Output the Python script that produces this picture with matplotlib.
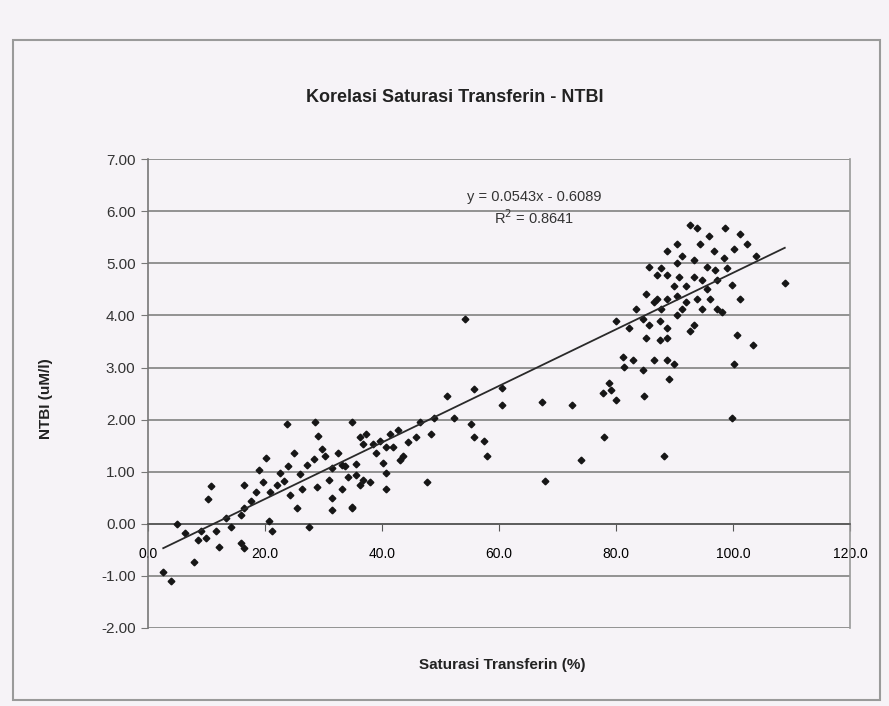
import numpy as np
import matplotlib.pyplot as plt
from matplotlib.patches import Rectangle

# Saturasi transferin (%) vs NTBI
saturasi = [23.7, 28.5, 29.1, 34.9, 36.3, 10.7, 10.2, 16.4, 18.9, 19.7,
            20.8, 22.5, 24.0, 26.0, 27.2, 28.4, 30.3, 31.5, 33.2, 35.5,
            36.7, 31.0, 24.2, 25.4, 31.5, 31.5, 34.9, 16.4, 15.9, 20.6,
            21.1, 27.5, 5.0, 9.0, 9.9, 11.6, 12.1, 15.9, 16.4, 7.8,
            2.6, 4.0, 14.2, 8.5, 13.3, 6.4, 17.6, 18.5, 22.0, 23.2,
            28.9, 33.2, 34.1, 26.3, 36.7, 38.4, 39.6, 40.7, 38.9, 40.1,
            40.7, 37.9, 36.2, 40.7, 33.7, 35.5, 43.6, 43.1, 46.5, 48.8,
            48.3, 45.8, 52.2, 55.2, 55.7, 57.4, 58.0, 47.6, 51.0, 55.7,
            60.4, 67.3, 72.5, 54.2, 34.9, 41.9, 41.3, 37.2, 44.5, 42.7,
            86.5, 88.6, 90.3, 92.0, 93.8, 96.0, 97.2, 101.2, 79.9, 84.6,
            85.6, 87.4, 88.6, 90.3, 93.3, 92.6, 85.1, 87.4, 88.6, 100.7,
            103.3, 100.2, 81.1, 82.9, 84.6, 86.5, 88.6, 89.8, 81.3, 89.1,
            78.7, 77.7, 79.9, 84.8, 99.8, 77.9, 73.9, 88.2, 67.8, 79.1,
            93.8, 98.6, 101.2, 102.4, 88.6, 90.3, 94.3, 96.7, 98.4, 85.6,
            87.7, 90.3, 93.3, 95.5, 90.8, 93.3, 97.2, 89.8, 92.0, 95.5,
            86.9, 108.8, 92.6, 95.8, 100.2, 103.8, 86.9, 94.6, 98.1, 99.8,
            91.3, 96.9, 87.7, 83.4, 82.2, 60.4, 29.8, 32.4, 24.9, 20.2,
            88.6, 85.1, 94.6, 99.0, 91.2]
ntbi = [1.91, 1.96, 1.69, 1.96, 1.67, 0.72, 0.48, 0.74, 1.04, 0.80,
        0.61, 0.98, 1.11, 0.96, 1.13, 1.24, 1.30, 1.07, 1.13, 1.15,
        0.85, 0.85, 0.56, 0.30, 0.50, 0.26, 0.30, 0.30, 0.17, 0.06,
        -0.13, -0.06, 0.00, -0.13, -0.28, -0.13, -0.44, -0.37, -0.46, -0.74,
        -0.93, -1.09, -0.07, -0.31, 0.11, -0.17, 0.43, 0.61, 0.74, 0.83,
        0.70, 0.67, 0.89, 0.67, 1.54, 1.54, 1.59, 1.48, 1.35, 1.17,
        0.98, 0.80, 0.74, 0.67, 1.11, 0.93, 1.30, 1.22, 1.96, 2.04,
        1.72, 1.67, 2.04, 1.91, 1.67, 1.59, 1.30, 0.80, 2.46, 2.59,
        2.28, 2.33, 2.28, 3.94, 0.33, 1.48, 1.72, 1.72, 1.57, 1.81,
        4.26, 4.31, 4.37, 4.26, 4.31, 4.31, 4.13, 4.31, 3.89, 3.94,
        3.81, 3.89, 3.76, 4.00, 3.81, 3.70, 3.57, 3.52, 3.57, 3.63,
        3.44, 3.07, 3.20, 3.15, 2.96, 3.15, 3.15, 3.07, 3.02, 2.78,
        2.70, 2.52, 2.37, 2.46, 2.04, 1.67, 1.22, 1.30, 0.83, 2.56,
        5.67, 5.67, 5.56, 5.37, 5.24, 5.37, 5.37, 5.24, 5.11, 4.93,
        4.91, 5.00, 5.06, 4.93, 4.74, 4.74, 4.69, 4.56, 4.56, 4.50,
        4.31, 4.63, 5.74, 5.52, 5.28, 5.15, 4.78, 4.13, 4.07, 4.59,
        5.15, 4.87, 4.13, 4.13, 3.76, 2.61, 1.44, 1.35, 1.35, 1.26,
        4.78, 4.41, 4.69, 4.91, 4.13]

# trendline (linear) from the printed equation
slope = 0.0543
intercept = -0.6089
r2 = 0.8641

xticks = [0, 20, 40, 60, 80, 100, 120]
yticks = [-2, -1, 0, 1, 2, 3, 4, 5, 6, 7]

bg = '#f6f3f7'
plt.rcParams['font.family'] = ['Liberation Sans', 'DejaVu Sans']

fig = plt.figure(figsize=(8.89, 7.06), dpi=100, facecolor=bg)
ax = fig.add_axes([0.1665, 0.1105, 0.79, 0.664])
ax.set_facecolor(bg)

ax.set_xlim(0, 120)
ax.set_ylim(-2, 7)
ax.set_xticks(xticks)
ax.set_yticks(yticks)
ax.set_xticklabels(["%.1f" % v for v in xticks], fontsize=11, color='#333333')
ax.set_yticklabels(["%.2f" % v for v in yticks], fontsize=11, color='#333333')

ax.grid(axis='y', color='#8a8a8a', lw=1.3)
ax.set_axisbelow(True)

# value axis crosses at y = 0 like excel
ax.spines['bottom'].set_position(('data', 0))
ax.spines['bottom'].set_color('#555555')
ax.spines['left'].set_color('#777777')
ax.spines['right'].set_color('#999999')
ax.spines['top'].set_visible(False)
for s in ax.spines.values():
    s.set_linewidth(1.2)
ax.tick_params(axis='x', direction='out', length=5, color='#555555', pad=12)
ax.tick_params(axis='y', direction='out', length=5, color='#777777', pad=4)

ax.plot(saturasi, ntbi, linestyle='none', marker='D', markersize=3.4,
        color='#161616', zorder=3)

xs = np.array([min(saturasi), max(saturasi)])
ax.plot(xs, slope * xs + intercept, color='#2a2a2a', lw=1.3, zorder=4)

ax.text(66, 6.2, "y = %.4fx - %.4f" % (slope, -intercept), ha='center', fontsize=10.5, color='#333333')
ax.text(66, 5.75, "R$^2$ = %.4f" % r2, ha='center', fontsize=10.5, color='#333333')

fig.text(0.512, 0.862, "Korelasi Saturasi Transferin - NTBI", ha='center', va='center',
         fontsize=13, fontweight='bold', color='#222222')
fig.text(0.052, 0.435, "NTBI (uM/l)", rotation=90, ha='center', va='center',
         fontsize=11, fontweight='bold', color='#222222')
fig.text(0.565, 0.058, "Saturasi Transferin (%)", ha='center', va='center',
         fontsize=11, fontweight='bold', color='#222222')

# chart area border
fig.patches.append(Rectangle((0.015, 0.008), 0.975, 0.935, transform=fig.transFigure,
                             fill=False, edgecolor='#9a9a9a', lw=1.5))

fig.savefig('out.png', dpi=100, facecolor=bg)
